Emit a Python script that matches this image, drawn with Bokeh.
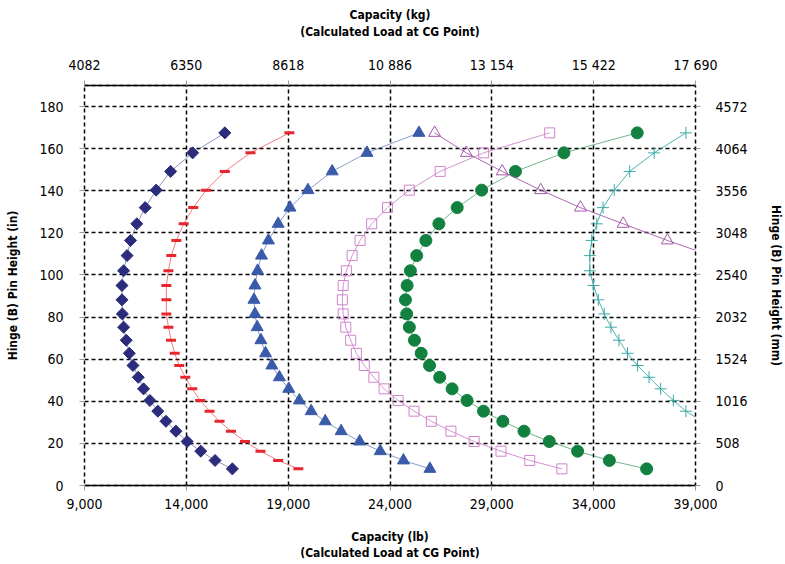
from math import pi
from bokeh.plotting import figure
from bokeh.models import Range1d, LinearAxis, FixedTicker
from bokeh.embed import file_html
from bokeh.resources import INLINE

# ---- data -------------------------------------------------------------
heights = [167.5, 158, 149.2, 140.3, 132, 124.3, 116.4, 109.2, 102, 95, 88.2, 81.5, 75.2,
           69, 62.8, 57, 51.4, 45.9, 40.4, 35.3, 30.5, 25.8, 20.9, 16.3, 11.9, 7.9]

s_diamond = [15890, 14310, 13230, 12520, 11980, 11570, 11260, 11090, 10920, 10840, 10840, 10860, 10920,
             11050, 11200, 11380, 11640, 11900, 12210, 12600, 13000, 13490, 14040, 14710, 15410, 16260]
s_dash = [19060, 17150, 15890, 14970, 14340, 13870, 13510, 13260, 13120, 13020, 13020, 13020, 13120,
          13250, 13430, 13650, 13950, 14290, 14680, 15140, 15630, 16190, 16880, 17640, 18510, 19500]
s_triangle = [25420, 22870, 21160, 19970, 19090, 18510, 18030, 17690, 17500, 17370, 17320, 17370, 17480,
              17660, 17890, 18200, 18570, 19030, 19550, 20130, 20820, 21600, 22510, 23520, 24660, 25960]
s_square = [31840, 28600, 26460, 24950, 23880, 23100, 22530, 22140, 21860, 21700, 21660, 21700, 21830,
            22070, 22350, 22740, 23210, 23710, 24400, 25180, 26030, 26990, 28130, 29450, 30860, 32440]
s_circle = [36140, 32540, 30160, 28500, 27300, 26400, 25760, 25310, 25000, 24840, 24760, 24820, 24950,
            25200, 25530, 25940, 26440, 27050, 27780, 28590, 29540, 30580, 31820, 33210, 34770, 36600]
s_open_tri = [26190, 27750, 29510, 31400, 33350, 35450, 37620, 39750]
s_cross = [38530, 36970, 35770, 35010, 34460, 34150, 33900, 33810, 33810, 33990, 34230, 34520, 34850,
           35240, 35660, 36150, 36720, 37290, 37910, 38530, 39300, 40200]

lb_ticks = [9000, 14000, 19000, 24000, 29000, 34000, 39000]
lb_labels = ["9,000", "14,000", "19,000", "24,000", "29,000", "34,000", "39,000"]
kg_labels = ["4082", "6350", "8618", "10 886", "13 154", "15 422", "17 690"]
in_ticks = [0, 20, 40, 60, 80, 100, 120, 140, 160, 180]
mm_labels = ["0", "508", "1016", "1524", "2032", "2540", "3048", "3556", "4064", "4572"]

# ---- figure -----------------------------------------------------------
FONT = "DejaVu Sans Condensed"

p = figure(width=785, height=564, output_backend="svg", toolbar_location=None,
           x_range=Range1d(9000, 39000), y_range=Range1d(0, 190),
           min_border_left=84, min_border_right=87, min_border_top=85, min_border_bottom=79,
           x_axis_location=None, y_axis_location=None)
p.outline_line_color = "black"
p.outline_line_width = 1.5
p.outline_line_dash = "4 3"
p.background_fill_color = "white"
p.border_fill_color = "white"

xt = FixedTicker(ticks=lb_ticks)
yt = FixedTicker(ticks=in_ticks)


def style(ax, label, tick_standoff, label_standoff, line=True):
    ax.axis_label = label
    ax.axis_label_text_font = FONT
    ax.axis_label_text_font_style = "bold"
    ax.axis_label_text_font_size = "12px"
    ax.axis_label_text_color = "black"
    ax.axis_label_standoff = label_standoff
    ax.major_label_text_font = FONT
    ax.major_label_text_font_size = "14px"
    ax.major_label_text_color = "black"
    ax.major_label_standoff = tick_standoff
    ax.major_tick_in = 0
    ax.major_tick_out = 5
    ax.major_tick_line_color = "#9a9a9a"
    ax.minor_tick_line_color = None
    if line:
        ax.axis_line_color = "black"
        ax.axis_line_width = 1.5
    else:
        ax.axis_line_color = None


bottom = LinearAxis(ticker=xt, major_label_overrides=dict(zip(lb_ticks, lb_labels)))
style(bottom, "Capacity (lb)\n(Calculated Load at CG Point)", 8, 18)
p.add_layout(bottom, "below")

top = LinearAxis(ticker=xt, major_label_overrides=dict(zip(lb_ticks, kg_labels)))
style(top, "Capacity (kg)\n(Calculated Load at CG Point)", 8, 15)
p.add_layout(top, "above")

left = LinearAxis(ticker=yt)
style(left, "Hinge (B) Pin Height (in)", 16, 16, line=False)
p.add_layout(left, "left")

right = LinearAxis(ticker=yt, major_label_overrides=dict(zip(in_ticks, mm_labels)))
style(right, "Hinge (B) Pin Height (mm)", 15, 18, line=False)
p.add_layout(right, "right")

p.xgrid.ticker = xt
p.ygrid.ticker = yt
for g in (p.xgrid, p.ygrid):
    g.grid_line_color = "black"
    g.grid_line_width = 1.5
    g.grid_line_dash = "4 3"

# ---- series -----------------------------------------------------------
navy = "#2B2C7C"
red = "#E8262D"
blue = "#3A5BA9"
pink = "#CF86CB"
green = "#12803F"
violet = "#A359AA"
teal = "#3DA9A9"

p.line(s_diamond, heights, line_color=navy, line_alpha=0.5, line_width=1)
p.scatter(s_diamond, heights, marker="square", angle=pi / 4, size=8.5, fill_color=navy, line_color=navy)

p.line(s_dash, heights, line_color=red, line_alpha=0.6, line_width=1)
p.scatter(s_dash, heights, marker="dash", size=10, line_color=red, line_width=3)

p.line(s_triangle, heights, line_color=blue, line_alpha=0.6, line_width=1)
p.scatter(s_triangle, heights, marker="triangle", size=12, fill_color=blue, line_color=blue)

p.line(s_square, heights, line_color=pink, line_alpha=0.9, line_width=1)
p.scatter(s_square, heights, marker="square", size=10, fill_color=None, line_color=pink, line_width=1)

p.line(s_circle, heights, line_color=green, line_alpha=0.6, line_width=1)
p.scatter(s_circle, heights, marker="circle", size=12, fill_color=green, line_color=green)

p.line(s_open_tri, heights[:len(s_open_tri)], line_color=violet, line_alpha=0.9, line_width=1)
p.scatter(s_open_tri, heights[:len(s_open_tri)], marker="triangle", size=12, fill_color=None,
          line_color=violet, line_width=1)

p.line(s_cross, heights[:len(s_cross)], line_color=teal, line_alpha=0.9, line_width=1)
p.scatter(s_cross, heights[:len(s_cross)], marker="cross", size=12, line_color=teal, line_width=1)

open("out.html", "w").write(file_html(p, INLINE))
